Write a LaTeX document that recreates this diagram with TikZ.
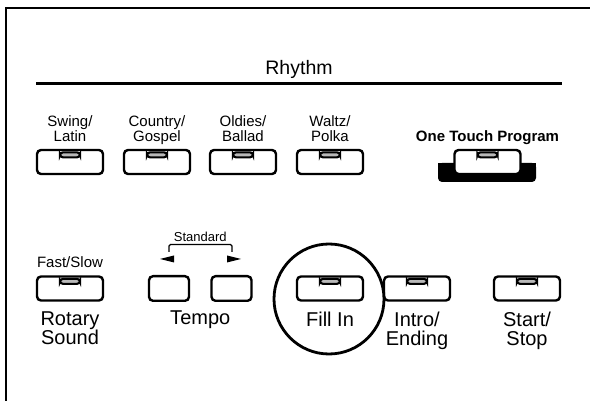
\documentclass[tikz,border=0pt]{standalone}
\usepackage{fontspec}
\setmainfont{Liberation Sans}
\usepackage{tikz}
\usetikzlibrary{positioning}

\begin{document}
\begin{tikzpicture}[x=1pt, y=-1pt,
    btn/.style={rectangle, draw, fill=white, line width=2.4pt, rounded corners=4pt, minimum width=66pt, minimum height=24pt, inner sep=0pt},
    tbtn/.style={btn, minimum width=40pt, minimum height=24.6pt},
    led/.style={rectangle, draw, fill=gray!55, line width=2.1pt, rounded corners=3pt, minimum width=20pt, minimum height=5pt, inner sep=0pt},
    toplbl/.style={font=\fontsize{15}{14.5}\selectfont, align=center, inner sep=0pt},
    btmlbl/.style={font=\fontsize{20}{19}\selectfont, align=center, inner sep=0pt},
    title/.style={font=\fontsize{19.5}{20}\selectfont, inner sep=0pt, anchor=base}
  ]
    \useasboundingbox (0,0) rectangle (590,401);
    \draw[line width=2.2pt] (6,402) -- (6,8) -- (591,8);

    \node[title] (rhythm) at (299,75) {Rhythm};
    \draw[line width=3pt] (36,84) -- (562,84);

    \node[btn] (swing) at (70,162) {};
    \node[btn] (country) at (157,162) {};
    \node[btn] (oldies) at (243,162) {};
    \node[btn] (waltz) at (330,162) {};
    \foreach \b in {swing,country,oldies,waltz}
      \node[led, below=2.5pt of \b.north] {};

    \node[toplbl, above=3pt of swing] {Swing/\\Latin\strut};
    \node[toplbl, above=3pt of country] {Country/\\Gospel\strut};
    \node[toplbl, above=3pt of oldies] {Oldies/\\Ballad\strut};
    \node[toplbl, above=3pt of waltz] {Waltz/\\Polka\strut};

    \fill[rounded corners=4pt] (438,163) rectangle (536,182);
    \fill (438,163) rectangle (536,170);
    \node[btn] (otp) at (487.5,162) {};
    \node[led, below=2.5pt of otp.north] {};
    \node[font=\fontsize{15}{16}\selectfont\bfseries, inner sep=0pt, anchor=base] (otplbl) at (487.5,142) {One Touch Program};

    \node[btn] (rotary) at (70,288.5) {};
    \node[led, below=2.5pt of rotary.north] {};
    \node[toplbl, above=3pt of rotary] {Fast/Slow\strut};
    \node[btmlbl, below=10pt of rotary] {Rotary\\Sound};

    \node[tbtn] (tslow) at (169,288.5) {};
    \node[tbtn] (tfast) at (231.5,288.5) {};
    \node[btmlbl, anchor=north] (tempo) at (200.25,311) {Tempo};
    \node[font=\fontsize{13}{14}\selectfont, inner sep=0pt, anchor=base] (std) at (200.25,242) {Standard};
    \draw[line width=1.2pt, rounded corners=1.5pt] (169,252) -- (169,244.5) -- (232,244.5) -- (232,252);
    \fill (160,259) -- (174,255.5) -- (174,262.5) -- cycle;
    \fill (241,259) -- (227,255.5) -- (227,262.5) -- cycle;

    \node[btn] (intro) at (417,288.5) {};
    \node[led, below=2.5pt of intro.north] {};
    \node[circle, draw, fill=white, line width=2.8pt, minimum size=110pt] (ring) at (329,299) {};
    \node[btn] (fill) at (330,288.5) {};
    \node[led, below=2.5pt of fill.north] {};
    \node[btmlbl, below=10pt of fill] {Fill In};
    \node[btmlbl, below=10pt of intro] {Intro/\\Ending};

    \node[btn] (start) at (527,288.5) {};
    \node[led, below=2.5pt of start.north] {};
    \node[btmlbl, below=10pt of start] {Start/\\Stop};
  \end{tikzpicture}
\end{document}
